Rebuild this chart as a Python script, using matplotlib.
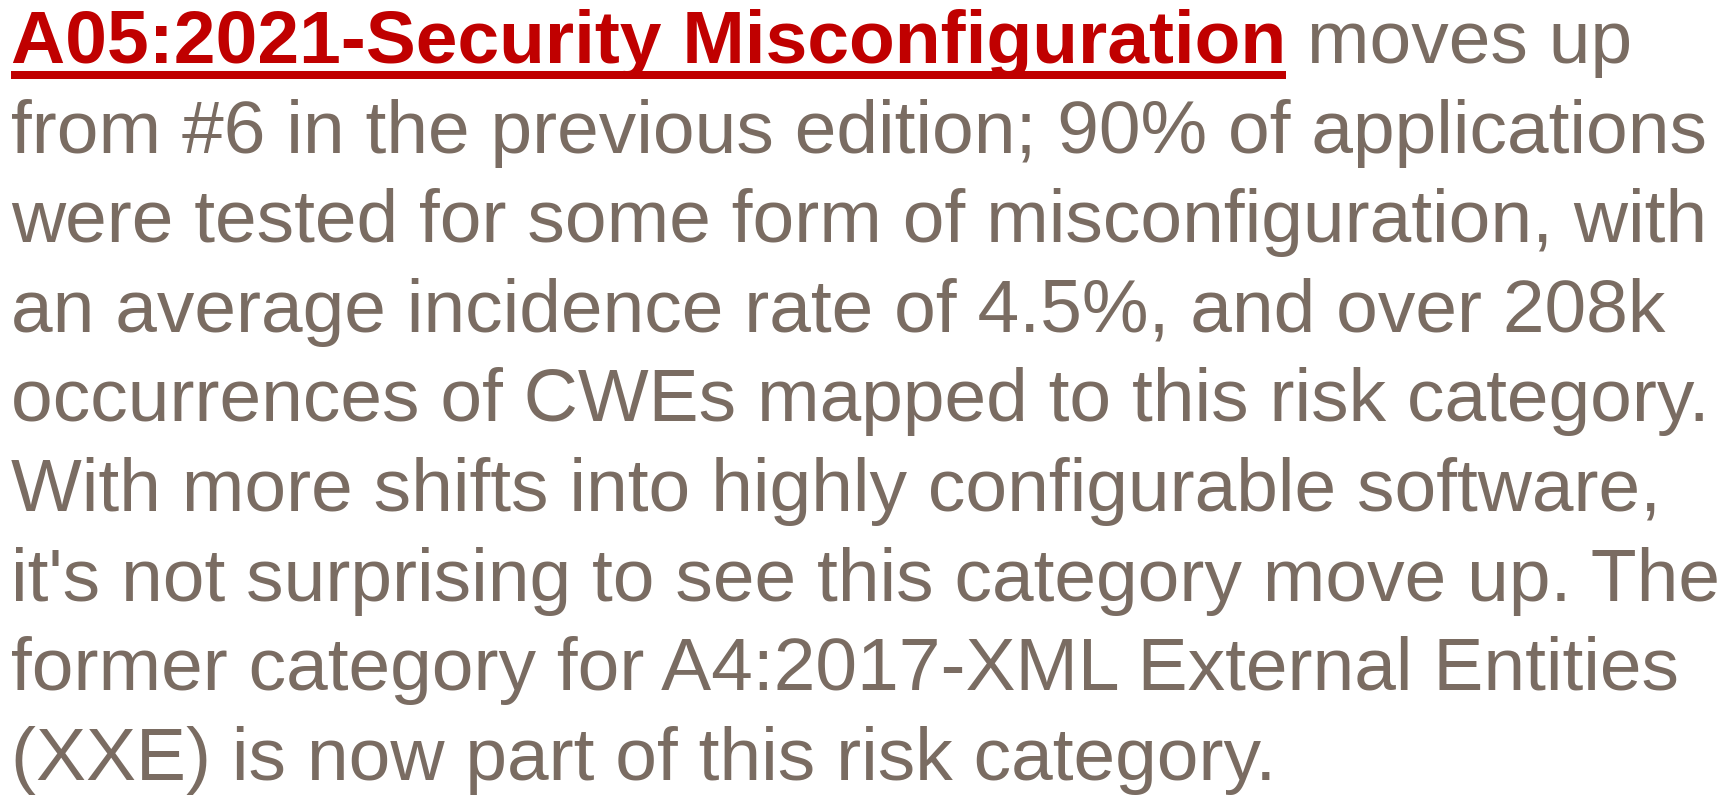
import matplotlib
matplotlib.use("Agg")
import matplotlib.pyplot as plt
from matplotlib.patches import Rectangle

title_text = "A05:2021-Security Misconfiguration"
first_rest = " moves up"
body_lines = [
    "from #6 in the previous edition; 90% of applications",
    "were tested for some form of misconfiguration, with",
    "an average incidence rate of 4.5%, and over 208k",
    "occurrences of CWEs mapped to this risk category.",
    "With more shifts into highly configurable software,",
    "it's not surprising to see this category move up. The",
    "former category for A4:2017-XML External Entities",
    "(XXE) is now part of this risk category.",
]

W, H = 1734, 795
DPI = 100
fig = plt.figure(figsize=(W / DPI, H / DPI), dpi=DPI)
fig.patch.set_facecolor("white")

FAM = ["Liberation Sans", "DejaVu Sans"]
FS = 54.0
GRAY = "#7a6c62"
RED = "#c00000"
x0 = 11
base0 = 63
step = 89.6

def fy(py):
    return 1 - py / H

t_title = fig.text(x0 / W, fy(base0), title_text, family=FAM, fontsize=FS,
                   fontweight="bold", color=RED, va="baseline", ha="left")
fig.canvas.draw()
r = fig.canvas.get_renderer()
bb = t_title.get_window_extent(r)
fig.text(bb.x1 / W, fy(base0), first_rest, family=FAM, fontsize=FS,
         color=GRAY, va="baseline", ha="left")
# underline
ul_top = base0 + 8
ul_h = 8
fig.patches.append(Rectangle((bb.x0 / W, fy(ul_top + ul_h)), (bb.x1 - bb.x0) / W,
                             ul_h / H, transform=fig.transFigure, color=RED, lw=0))

for i, line in enumerate(body_lines):
    fig.text(x0 / W, fy(base0 + step * (i + 1)), line, family=FAM, fontsize=FS,
             color=GRAY, va="baseline", ha="left")

fig.savefig("out.png", dpi=DPI, facecolor="white")
